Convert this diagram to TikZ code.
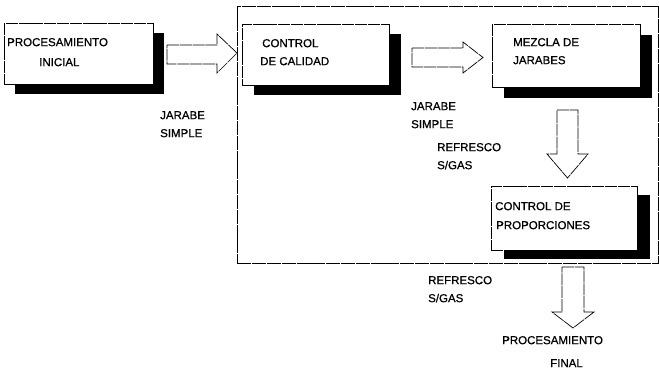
\documentclass[tikz,border=0pt]{standalone}
\usepackage{fontspec}
\setmainfont{Liberation Sans}
\newfontfamily\lblfont{Liberation Sans}[FakeBold=0.7]
\usetikzlibrary{shadows}
\begin{document}
\begin{tikzpicture}[x=1pt,y=-1pt,
  framest/.style={draw, line width=0.8pt, dash pattern=on 14pt off 0.8pt, inner sep=0pt, anchor=north west},
  boxst/.style={draw, line width=0.7pt, dash pattern=on 12pt off 0.8pt, fill=white, inner sep=0pt, anchor=north west},
  shad/.style args={#1/#2}{drop shadow={shadow xshift=#1pt, shadow yshift=-#2pt, fill=black, opacity=1}},
  arrowst/.style={draw, line width=0.7pt, dash pattern=on 12pt off 0.8pt, fill=white, line join=miter},
  lbl/.style={anchor=west, inner sep=0pt, text height=8.3pt, text depth=0pt, font=\lblfont\fontsize{11.5}{13}\selectfont}
]
\useasboundingbox (0,0) rectangle (659,375);
\fill[white] (0,0) rectangle (659,375);

% outer frame
\node[framest, minimum width=421pt, minimum height=257pt] (frame) at (237,6) {};

% boxes with shadows
\node[boxst, shad=11/10, minimum width=149pt, minimum height=61pt] (b1) at (4,23) {};
\node[boxst, shad=12/10, minimum width=147pt, minimum height=61pt] (b2) at (242,24) {};
\node[boxst, shad=12/11, minimum width=148pt, minimum height=63pt] (b3) at (492,24) {};
\node[boxst, shad=13/9, minimum width=146pt, minimum height=64pt] (b4) at (491,186) {};

% block arrows
\draw[arrowst] (167,45) -- (217,45) -- (217,34) -- (237,53) -- (217,73) -- (217,64) -- (167,64) -- cycle;
\draw[arrowst] (412,48) -- (463,48) -- (463,42) -- (483,57.5) -- (463,73) -- (463,67) -- (412,67) -- cycle;
\draw[arrowst] (557,110) -- (578,110) -- (578,154) -- (588,154) -- (567.5,178) -- (547,154) -- (557,154) -- cycle;
\draw[arrowst] (562,267) -- (584,267) -- (584,312) -- (594,312) -- (573,328) -- (552,312) -- (562,312) -- cycle;

% box texts
\node[lbl] (t1a) at (7,42) {PROCESAMIENTO};
\node[lbl] (t1b) at (39,62) {INICIAL};
\node[lbl] (t2a) at (262,43) {CONTROL};
\node[lbl] (t2b) at (260,61) {DE CALIDAD};
\node[lbl] (t3a) at (513,42) {MEZCLA DE};
\node[lbl] (t3b) at (513,60) {JARABES};
\node[lbl] (t4a) at (495,206) {CONTROL DE};
\node[lbl] (t4b) at (496,225) {PROPORCIONES};

% flow labels
\node[lbl] (l1a) at (160,115) {JARABE};
\node[lbl] (l1b) at (160,133) {SIMPLE};
\node[lbl] (l2a) at (411,106) {JARABE};
\node[lbl] (l2b) at (411,124) {SIMPLE};
\node[lbl] (l3a) at (437,147) {REFRESCO};
\node[lbl] (l3b) at (437,165) {S/GAS};
\node[lbl] (l4a) at (428,280) {REFRESCO};
\node[lbl] (l4b) at (428,298) {S/GAS};
\node[lbl] (l5a) at (502,340) {PROCESAMIENTO};
\node[lbl] (l5b) at (550,363) {FINAL};
\end{tikzpicture}
\end{document}
